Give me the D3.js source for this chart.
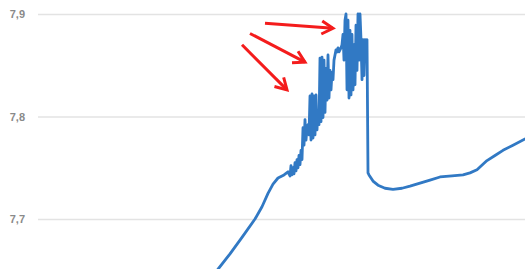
<!DOCTYPE html>
<html>
<head>
<meta charset="utf-8">
<script src="https://cdn.jsdelivr.net/npm/d3@7"></script>
<style>
body{margin:0;background:#fff;}
svg{display:block;}
</style>
</head>
<body>
<svg id="chart" width="525" height="269"></svg>
<script>
// readings (time step, pH)
var times = [0,12,24,37,44,50,55,60,66,70,
    72,73,74,75,76,77,78,79,80,81,82,83,84,85,86,87,88,89,90,91,
    92,93,94,95,96,97,98,99,100,101,102,103,104,105,106,107,108,109,110,111,
    112,113,114,115,116,117,118,119,120,121,122,123,124,125,126,127,128,129,130,131,
    132,133,134,135,136,137,138,139,140,141,142,143,144,145,146,147,148,149,
    150,151,155,160,167,175,184,192,202,212,222,234,245,252,259,269,277,285,295,307];
var values = [7.651,7.666,7.682,7.700,7.712,7.725,7.734,7.740,7.743,7.746,
    7.742,7.752,7.743,7.750,7.744,7.755,7.747,7.758,7.750,7.762,7.753,7.767,7.758,7.789,7.772,7.797,7.777,7.789,7.792,7.782,
    7.820,7.777,7.822,7.779,7.820,7.782,7.821,7.787,7.806,7.792,7.857,7.795,7.858,7.799,7.855,7.804,7.847,7.816,7.860,7.818,
    7.845,7.826,7.843,7.836,7.855,7.860,7.865,7.863,7.867,7.863,7.865,7.867,7.870,7.880,7.855,7.894,7.900,7.826,7.894,7.818,
    7.884,7.821,7.880,7.826,7.870,7.831,7.889,7.845,7.900,7.855,7.900,7.875,7.836,7.875,7.840,7.875,7.855,7.875,
    7.745,7.743,7.737,7.733,7.730,7.729,7.730,7.732,7.735,7.738,7.741,7.742,7.743,7.745,7.748,7.757,7.762,7.767,7.772,7.778];
var yTicks = [7.7, 7.8, 7.9];

// red arrows drawn on the chart: [t0, v0, t1, v1]
var arrows = [
    [47, 7.891, 115, 7.886],
    [32, 7.881, 87, 7.853],
    [24, 7.870, 69, 7.826]
];

var svg = d3.select("#chart");
var left = 38, right = 525;

var x = d3.scaleLinear().domain([0, 307]).range([218, 525]);
var y = d3.scaleLinear().domain([7.7, 7.9]).range([219, 14]);

var yAxis = d3.axisLeft(y)
    .tickValues(yTicks)
    .tickSize(-(right - left))
    .tickPadding(13)
    .tickFormat(function(d){ return d3.format(".1f")(d).replace(".", ","); });

var g = svg.append("g")
    .attr("transform", "translate(" + left + ",0)")
    .call(yAxis);
g.select(".domain").remove();
g.selectAll(".tick line").attr("stroke", "#e3e3e3").attr("stroke-width", 1.5);
g.selectAll(".tick text")
    .attr("fill", "#8a8a8a")
    .style("font-family", "Liberation Sans, Arial, sans-serif")
    .style("font-size", "11px")
    .style("font-weight", "bold");

var pts = times.map(function(t, i){ return [t, values[i]]; });

var line = d3.line()
    .x(function(d){ return x(d[0]); })
    .y(function(d){ return y(d[1]); });

svg.append("path")
    .datum(pts)
    .attr("d", line)
    .attr("fill", "none")
    .attr("stroke", "#3179c4")
    .attr("stroke-width", 2.8)
    .attr("stroke-linejoin", "round")
    .attr("stroke-linecap", "round");

// arrows
arrows.forEach(function(a){
    var x0 = x(a[0]), y0 = y(a[1]), x1 = x(a[2]), y1 = y(a[3]);
    var ang = Math.atan2(y1 - y0, x1 - x0);
    var len = 13, spread = Math.PI / 6;
    var h1 = [x1 - len * Math.cos(ang - spread), y1 - len * Math.sin(ang - spread)];
    var h2 = [x1 - len * Math.cos(ang + spread), y1 - len * Math.sin(ang + spread)];
    svg.append("line")
        .attr("x1", x0).attr("y1", y0).attr("x2", x1).attr("y2", y1)
        .attr("stroke", "#f41c1c").attr("stroke-width", 3);
    svg.append("path")
        .attr("d", "M" + h1 + "L" + x1 + "," + y1 + "L" + h2)
        .attr("fill", "none")
        .attr("stroke", "#f41c1c").attr("stroke-width", 3)
        .attr("stroke-linejoin", "miter");
});
</script>
</body>
</html>
